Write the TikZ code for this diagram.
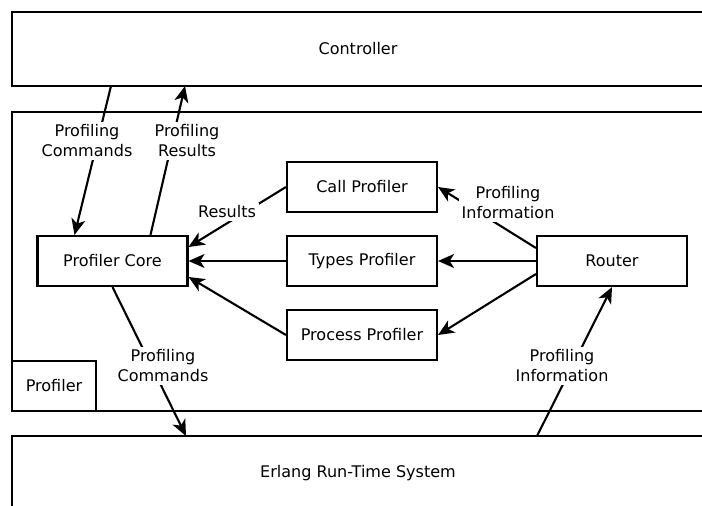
\documentclass[tikz,border=0pt]{standalone}
\usepackage{fontspec}
\setmainfont{DejaVu Sans}
\usetikzlibrary{arrows.meta}

\begin{document}
\begin{tikzpicture}[->,>={Stealth[length=4mm,width=3.5mm,inset=1.1mm]},line width=1.5pt,
		every node/.style={font=\fontsize{11.4}{14.2}\selectfont},
		part/.style={draw,line width=1.5pt,minimum width=3.75cm,minimum height=1.25cm},
		tag/.style={fill=white,align=center,inner sep=2pt}]

		\useasboundingbox (0,0) rectangle (17.55,12.65);

		\node at (8.95,11.425) [draw,minimum width=17.3cm,minimum height=1.85cm] (Ctrl) {Controller};
		\node at (8.95,6.1125) [draw,minimum width=17.3cm,minimum height=7.475cm] (ProfBox) {};
		\node at (1.35,3.0) [draw,minimum width=2.1cm,minimum height=1.25cm] (ProfTag) {Profiler};
		\node at (8.95,0.825) [draw,minimum width=17.3cm,minimum height=1.85cm] (ERTS) {Erlang Run-Time System};

		\node at (2.8125,6.125) [part] (Core) {Profiler Core};
		\node at (9.05,7.975) [part] (CallP) {Call Profiler};
		\node at (9.05,6.125) [part] (TypesP) {Types Profiler};
		\node at (9.05,4.275) [part] (ProcP) {Process Profiler};
		\node at (15.3,6.125) [part] (Router) {Router};

		\coordinate (CtrlCmd) at (2.775,10.5);
		\coordinate (CtrlRes) at (4.625,10.5);
		\coordinate (ERTSCmd) at (4.65,1.75);
		\coordinate (ERTSInfo) at (13.425,1.75);

		% controller <-> core
		\draw (CtrlCmd) -- ([xshift=-0.95cm]Core.north);
		\draw ([xshift=0.95cm]Core.north) -- (CtrlRes);
		\node at (2.175,9.125) [tag] (LblCmd1) {Profiling\\Commands};
		\node at (4.675,9.125) [tag] (LblRes1) {Profiling\\Results};

		% profilers -> core
		\draw (CallP.west) -- ([yshift=0.35cm]Core.east);
		\node at (5.675,7.35) [tag] (LblRes2) {Results};
		\draw (TypesP.west) -- (Core.east);
		\draw (ProcP.west) -- ([yshift=-0.4cm]Core.east);

		% router -> profilers
		\draw ([yshift=0.325cm]Router.west) -- (CallP.east);
		\node at (12.7,7.575) [tag] (LblInfo1) {Profiling\\Information};
		\draw (Router.west) -- (TypesP.east);
		\draw ([yshift=-0.325cm]Router.west) -- (ProcP.east);

		% core <-> run-time system
		\draw (Core.south) -- (ERTSCmd);
		\node at (4.075,3.5) [tag] (LblCmd2) {Profiling\\Commands};
		\draw (ERTSInfo) -- (Router.south);
		\node at (14.05,3.5) [tag] (LblInfo2) {Profiling\\Information};
	\end{tikzpicture}
\end{document}
